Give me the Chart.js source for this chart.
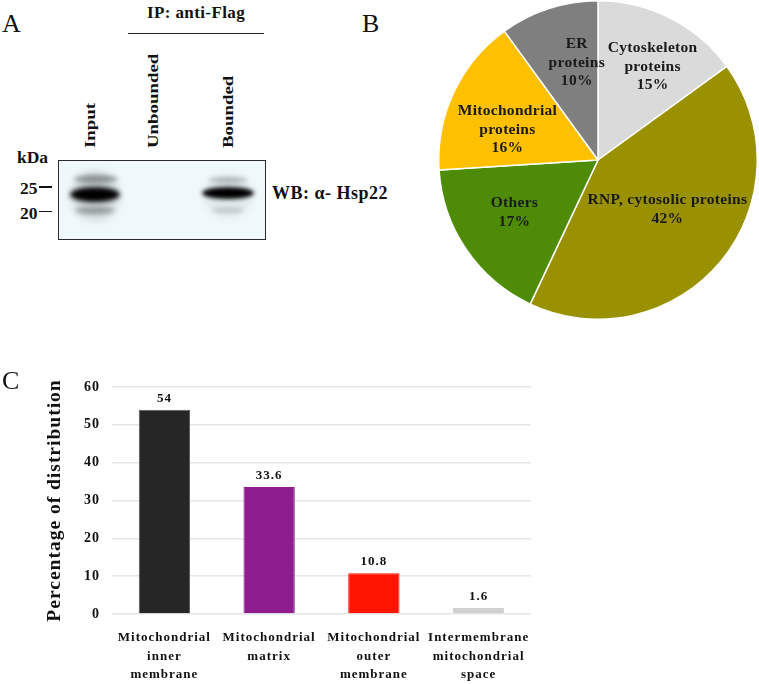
<!DOCTYPE html>
<html>
<head>
<meta charset="utf-8">
<script src="https://cdn.jsdelivr.net/npm/chart.js@4"></script>
<style>
  body { margin: 0; background: #fff; }
  #page {
    position: relative;
    width: 759px;
    height: 684px;
    overflow: hidden;
    font-family: "Liberation Serif", "Times New Roman", serif;
    color: #111;
  }
  .abs { position: absolute; white-space: nowrap; }
  .letter { font-size: 26px; line-height: 26px; }
  .bold { font-weight: bold; }
  .lane {
    position: absolute;
    left: 0;
    top: 0;
    white-space: nowrap;
    font-weight: bold;
    font-size: 14.5px;
    line-height: 14px;
    transform-origin: 0 0;
  }
  .band { position: absolute; border-radius: 50%; }
  .dash { position: absolute; height: 1.5px; background: #111; }
</style>
</head>
<body>
<div id="page">
  <!-- panel A: blot -->
  <div class="abs letter" style="left:2px;top:11px">A</div>
  <div class="abs bold" style="left:128px;top:4px;width:136px;text-align:center;font-size:17px;line-height:17px;letter-spacing:0.4px">IP: anti-Flag</div>
  <div class="abs" style="left:128px;top:32.5px;width:136px;height:1.3px;background:#222"></div>

  <div class="lane" style="transform:translate(83px,148px) rotate(-90deg) scaleX(1.3)">Input</div>
  <div class="lane" style="transform:translate(146px,148px) rotate(-90deg) scaleX(1.3)">Unbounded</div>
  <div class="lane" style="transform:translate(221px,148px) rotate(-90deg) scaleX(1.3)">Bounded</div>

  <div class="abs bold" style="left:17px;top:148.6px;font-size:17.5px;line-height:17.5px">kDa</div>
  <div class="abs bold" style="left:0;width:37.5px;text-align:right;top:180.3px;font-size:17.5px;line-height:17.5px">25</div>
  <div class="abs bold" style="left:0;width:37.5px;text-align:right;top:205.3px;font-size:17.5px;line-height:17.5px">20</div>
  <div class="dash" style="left:39px;width:13px;top:186px"></div>
  <div class="dash" style="left:39px;width:13px;top:210.5px"></div>

  <div class="abs" style="left:57.5px;top:159.5px;width:206px;height:78px;border:1.5px solid #2a2a2a;background:#eff9fb;overflow:hidden">
    <div class="band" style="left:12px;top:10px;width:48px;height:50px;background:rgba(0,0,0,0.12);filter:blur(4px)"></div>
    <div class="band" style="left:15px;top:14px;width:44px;height:8px;background:rgba(0,0,0,0.35);filter:blur(2.5px)"></div>
    <div class="band" style="left:11px;top:26.5px;width:50px;height:15px;background:#000;filter:blur(2.5px)"></div>
    <div class="band" style="left:16px;top:46.5px;width:40px;height:7px;background:rgba(0,0,0,0.3);filter:blur(2.5px)"></div>
    <div class="band" style="left:146px;top:14px;width:46px;height:42px;background:rgba(0,0,0,0.07);filter:blur(4px)"></div>
    <div class="band" style="left:149px;top:16px;width:40px;height:6px;background:rgba(0,0,0,0.22);filter:blur(2px)"></div>
    <div class="band" style="left:143px;top:26.5px;width:52px;height:12px;background:#000;filter:blur(2.2px)"></div>
    <div class="band" style="left:153px;top:47.5px;width:32px;height:5px;background:rgba(0,0,0,0.15);filter:blur(2px)"></div>
  </div>
  <div class="abs bold" style="left:272px;top:184px;font-size:18px;line-height:19px;letter-spacing:0.5px">WB: α- Hsp22</div>

  <!-- panel B: pie -->
  <div class="abs letter" style="left:362px;top:11px">B</div>
  <canvas id="pieChart" width="320" height="320" style="position:absolute;left:438px;top:0"></canvas>

  <!-- panel C: bars -->
  <canvas id="barChart" width="545" height="324" style="position:absolute;left:0;top:360px"></canvas>
  <div class="abs letter" style="left:2px;top:368px">C</div>
</div>

<script>
const pieLabels = [
  ["Cytoskeleton", "proteins"],
  ["RNP, cytosolic proteins"],
  ["Others"],
  ["Mitochondrial", "proteins"],
  ["ER", "proteins"]
];
const pieValues = [15, 42, 17, 16, 10];
const pieColors = ["#dadada", "#9a9100", "#4e8c08", "#ffc000", "#7f7f7f"];

const barLabels = [
  ["Mitochondrial", "inner", "membrane"],
  ["Mitochondrial", "matrix"],
  ["Mitochondrial", "outer", "membrane"],
  ["Intermembrane", "mitochondrial", "space"]
];
const barValues = [54, 33.6, 10.8, 1.6];
const barColors = ["#262626", "#8e1e8e", "#ff1500", "#d0d0d0"];
const barBorders = ["#5c5c5c", "#8e1e8e", "#ff1500", "#d0d0d0"];

const serif = "'Liberation Serif', 'Times New Roman', serif";
Chart.defaults.font.family = serif;
Chart.defaults.color = "#111";

// label placement inside each slice: radius fraction and angle nudge (deg)
const sliceLabelStyle = {
  radius: [0.68, 0.535, 0.62, 0.6, 0.625],
  nudge: [3.3, -4.2, 2, -6.6, 5.7]
};

const sliceLabels = {
  id: "sliceLabels",
  afterDatasetsDraw(chart) {
    const ctx = chart.ctx;
    const arcs = chart.getDatasetMeta(0).data;
    ctx.save();
    ctx.font = "bold 15.5px " + serif;
    ctx.letterSpacing = "0.3px";
    ctx.fillStyle = "#1a1a1a";
    ctx.textAlign = "center";
    ctx.textBaseline = "middle";
    arcs.forEach((arc, i) => {
      const mid = (arc.startAngle + arc.endAngle) / 2 + sliceLabelStyle.nudge[i] * Math.PI / 180;
      const r = arc.outerRadius * sliceLabelStyle.radius[i];
      const x = arc.x + Math.cos(mid) * r;
      const y = arc.y + Math.sin(mid) * r;
      const lines = [...pieLabels[i], pieValues[i] + "%"];
      lines.forEach((line, j) => {
        ctx.fillText(line, x, y + (j - (lines.length - 1) / 2) * 18.5);
      });
    });
    ctx.restore();
  }
};

new Chart(document.getElementById("pieChart"), {
  type: "pie",
  data: {
    labels: pieLabels.map(l => l.join(" ")),
    datasets: [{
      data: pieValues,
      backgroundColor: pieColors,
      borderColor: "#ffffff",
      borderWidth: 1.5
    }]
  },
  options: {
    responsive: false,
    animation: false,
    plugins: { legend: { display: false }, tooltip: { enabled: false } }
  },
  plugins: [sliceLabels]
});

const valueLabels = {
  id: "valueLabels",
  afterDatasetsDraw(chart) {
    const ctx = chart.ctx;
    const bars = chart.getDatasetMeta(0).data;
    ctx.save();
    ctx.font = "bold 13px " + serif;
    ctx.fillStyle = "#111";
    ctx.textAlign = "center";
    ctx.textBaseline = "middle";
    bars.forEach((bar, i) => {
      ctx.fillText(String(barValues[i]), bar.x, bar.y - 11);
    });
    ctx.restore();
  }
};

const spacing = {
  id: "spacing",
  beforeDraw(chart) {
    chart.ctx.letterSpacing = "1px";
  }
};

new Chart(document.getElementById("barChart"), {
  type: "bar",
  data: {
    labels: barLabels,
    datasets: [{
      data: barValues,
      backgroundColor: barColors,
      borderColor: barBorders,
      borderWidth: 1,
      barPercentage: 0.49,
      categoryPercentage: 1
    }]
  },
  options: {
    responsive: false,
    animation: false,
    layout: { padding: { top: 27, right: 14, left: 0, bottom: 0 } },
    plugins: { legend: { display: false }, tooltip: { enabled: false } },
    scales: {
      x: {
        grid: { display: false },
        border: { display: false },
        ticks: {
          font: { size: 13, weight: "bold", lineHeight: 1.45 },
          color: "#111",
          padding: 6,
          maxRotation: 0
        },
        afterFit(scale) { scale.height = 70; }
      },
      y: {
        min: 0,
        max: 60,
        ticks: {
          stepSize: 10,
          font: { size: 14, weight: "bold" },
          color: "#111",
          padding: 12
        },
        grid: { color: "#e6e6e6", lineWidth: 1.5, drawTicks: false },
        border: { display: false },
        title: {
          display: true,
          text: "Percentage of distribution",
          font: { size: 19.5, weight: "bold" },
          color: "#111",
          padding: { top: 43, bottom: 0 }
        },
        afterFit(scale) { scale.width = 112; }
      }
    }
  },
  plugins: [spacing, valueLabels]
});
</script>
</body>
</html>
